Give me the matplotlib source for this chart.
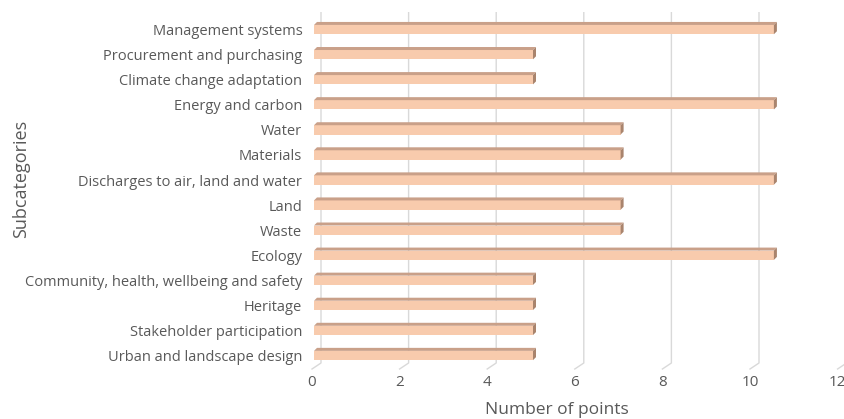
import matplotlib
matplotlib.use('Agg')
import matplotlib.pyplot as plt
from matplotlib.patches import Polygon

plt.rcParams['font.family'] = ['Open Sans', 'DejaVu Sans']

# ==================== Data ====================
SUBCATEGORIES = [
    "Management systems",
    "Procurement and purchasing",
    "Climate change adaptation",
    "Energy and carbon",
    "Water",
    "Materials",
    "Discharges to air, land and water",
    "Land",
    "Waste",
    "Ecology",
    "Community, health, wellbeing and safety",
    "Heritage",
    "Stakeholder participation",
    "Urban and landscape design",
]
POINTS = [10.5, 5, 5, 10.5, 7, 7, 10.5, 7, 7, 10.5, 5, 5, 5, 5]
X_TICKS = [0, 2, 4, 6, 8, 10, 12]

# ==================== Style ====================
FRONT = '#F8CBAD'
TOP = '#C9A089'
SIDE = '#A9846D'
TEXT = '#595959'
GRID = '#D9D9D9'

W, H = 844, 419
PX_X = 43.8      # pixels per x unit
PX_Y = 25.07     # pixels per category
X0_PX = 312      # front-plane zero
Y_TOP_PX, Y_BOT_PX = 12.7, 369
C0_PX = 29.6     # centre of first bar

fig = plt.figure(figsize=(W / 100, H / 100), dpi=100)
ax = fig.add_axes([X0_PX / W, 1 - Y_BOT_PX / H,
                   12 * PX_X / W, (Y_BOT_PX - Y_TOP_PX) / H])
ax.set_xlim(0, 12)
y_top = (Y_TOP_PX - C0_PX) / PX_Y
y_bot = (Y_BOT_PX - C0_PX) / PX_Y
ax.set_ylim(y_bot, y_top)

# depth offsets (floor and bar) in data units
gx, gy = 9 / PX_X, 6 / PX_Y
dx, dy = 3 / PX_X, 3 / PX_Y
bar_h = 9.3 / PX_Y
b0 = 2 / PX_X

# back-wall gridlines with slanted floor segment
for t in X_TICKS:
    ax.plot([t + gx, t + gx, t], [y_top, y_bot - gy, y_bot],
            color=GRID, lw=1.0, clip_on=False, zorder=1)

ypos = list(range(len(SUBCATEGORIES)))
ax.barh(ypos, POINTS, left=b0, height=bar_h, color=FRONT,
        edgecolor='none', zorder=3)

for y, v in zip(ypos, POINTS):
    top = y - bar_h / 2
    bot = y + bar_h / 2
    ax.add_patch(Polygon([(b0, top), (b0 + v, top), (b0 + v + dx, top - dy),
                          (b0 + dx, top - dy)], closed=True,
                         facecolor=TOP, edgecolor='none', zorder=3))
    ax.add_patch(Polygon([(b0 + v, top), (b0 + v + dx, top - dy),
                          (b0 + v + dx, bot - dy), (b0 + v, bot)], closed=True,
                         facecolor=SIDE, edgecolor='none', zorder=3))

for s in ax.spines.values():
    s.set_visible(False)

ax.set_xticks(X_TICKS)
ax.set_xticklabels([str(t) for t in X_TICKS])
ax.set_yticks(ypos)
ax.set_yticklabels(SUBCATEGORIES)
ax.tick_params(axis='x', length=0, pad=4, labelsize=11, colors=TEXT)
ax.tick_params(axis='y', length=0, pad=7, labelsize=10.5, colors=TEXT)

fig.text(557 / W, 1 - 410 / H, 'Number of points', ha='center', va='center',
         fontsize=12.5, color=TEXT)
fig.text(21 / W, 1 - 179 / H, 'Subcategories', ha='center', va='center',
         rotation=90, fontsize=13, color=TEXT)

fig.savefig('out.png', dpi=100)
